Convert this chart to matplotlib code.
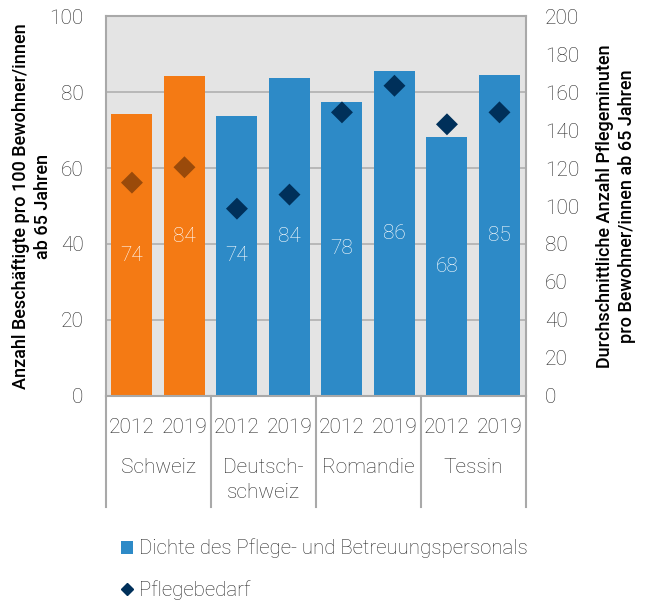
import numpy as np
import matplotlib.pyplot as plt
from matplotlib.patches import Patch
from matplotlib.lines import Line2D
import matplotlib.transforms as mtransforms

plt.rcParams['font.family'] = ['Roboto', 'DejaVu Sans']

years = ['2012', '2019', '2012', '2019', '2012', '2019', '2012', '2019']
regions = ['Schweiz', 'Deutsch-\nschweiz', 'Romandie', 'Tessin']
dichte = [74.2, 84.2, 73.7, 83.8, 77.4, 85.5, 68.1, 84.6]
dichte_labels = ['74', '84', '74', '84', '78', '86', '68', '85']
pflegebedarf = [112.3, 120.4, 98.6, 106.0, 149.3, 163.3, 143.0, 149.3]

orange = '#F47A14'
blue = '#2D8AC7'
brown = '#9A4A0A'
navy = '#00305A'
grey = '#A9A9A9'
txt = '#2A2A2A'

fig = plt.figure(figsize=(6.5, 6.05), dpi=100)
ax = fig.add_axes([0.1626, 0.3455, 0.6462, 0.628])
ax.set_facecolor('#E4E4E4')

x = np.arange(len(dichte))
bar_cols = [orange, orange] + [blue] * 6
bars = ax.bar(x, dichte, width=0.78, color=bar_cols, zorder=2)
ax.bar_label(bars, labels=dichte_labels, label_type='center', color='white',
             fontsize=15, fontweight='light')

ax.set_xlim(-0.5, 7.5)
ax.set_ylim(0, 100)
ax.set_yticks(range(0, 101, 20))
ax.yaxis.grid(True, color='#B4B4B4', linewidth=1.3, zorder=1)
ax.set_axisbelow(True)
ax.tick_params(axis='both', length=0, labelsize=15, labelcolor=txt)
ax.tick_params(axis='x', pad=16)
ax.set_xticks(x)
ax.set_xticklabels(years, fontweight='light')
for lab in ax.get_yticklabels():
    lab.set_fontweight('light')
ax.tick_params(axis='y', pad=16)
for s in ax.spines.values():
    s.set_color(grey)
    s.set_linewidth(1.5)

ax.set_ylabel('Anzahl Beschäftigte pro 100 Bewohner/innen\nab 65 Jahren',
              fontsize=13, fontweight='medium', labelpad=-2, linespacing=1.3)

ax2 = ax.twinx()
ax2.set_ylim(0, 200)
ax2.set_yticks(range(0, 201, 20))
ax2.tick_params(axis='y', length=0, labelsize=15, labelcolor=txt, pad=14)
for lab in ax2.get_yticklabels():
    lab.set_fontweight('light')
for s in ax2.spines.values():
    s.set_visible(False)
mark_cols = [brown, brown] + [navy] * 6
ax2.scatter(x, pflegebedarf, marker='D', s=125, c=mark_cols, zorder=3,
            linewidths=0)
ax2.set_ylabel('Durchschnittliche Anzahl Pflegeminuten\npro Bewohner/innen ab 65 Jahren',
               fontsize=13, fontweight='medium', labelpad=12, linespacing=1.3)

# group separators and region labels below the axis
trans = mtransforms.blended_transform_factory(ax.transData, ax.transAxes)
for b in [-0.5, 1.5, 3.5, 5.5, 7.5]:
    ax.plot([b, b], [0, -0.292], transform=trans, color=grey, linewidth=1.5,
            clip_on=False)
for i, r in enumerate(regions):
    ax.text(2 * i + 0.5, -0.164, r, transform=trans, ha='center', va='top',
            fontsize=15, fontweight='light', color=txt, linespacing=1.4)

handles = [Patch(facecolor=blue, edgecolor='none'),
           Line2D([], [], marker='D', linestyle='none', color=navy, markersize=6)]
fig.legend(handles, ['Dichte des Pflege- und Betreuungspersonals', 'Pflegebedarf'],
           loc='upper left', bbox_to_anchor=(0.158, 0.14),
           frameon=False, labelspacing=1.05, handlelength=0.6, handleheight=0.6,
           handletextpad=0.3, labelcolor=txt,
           prop={'weight': 'light', 'size': 14.7})

fig.savefig('out.png', dpi=100)
